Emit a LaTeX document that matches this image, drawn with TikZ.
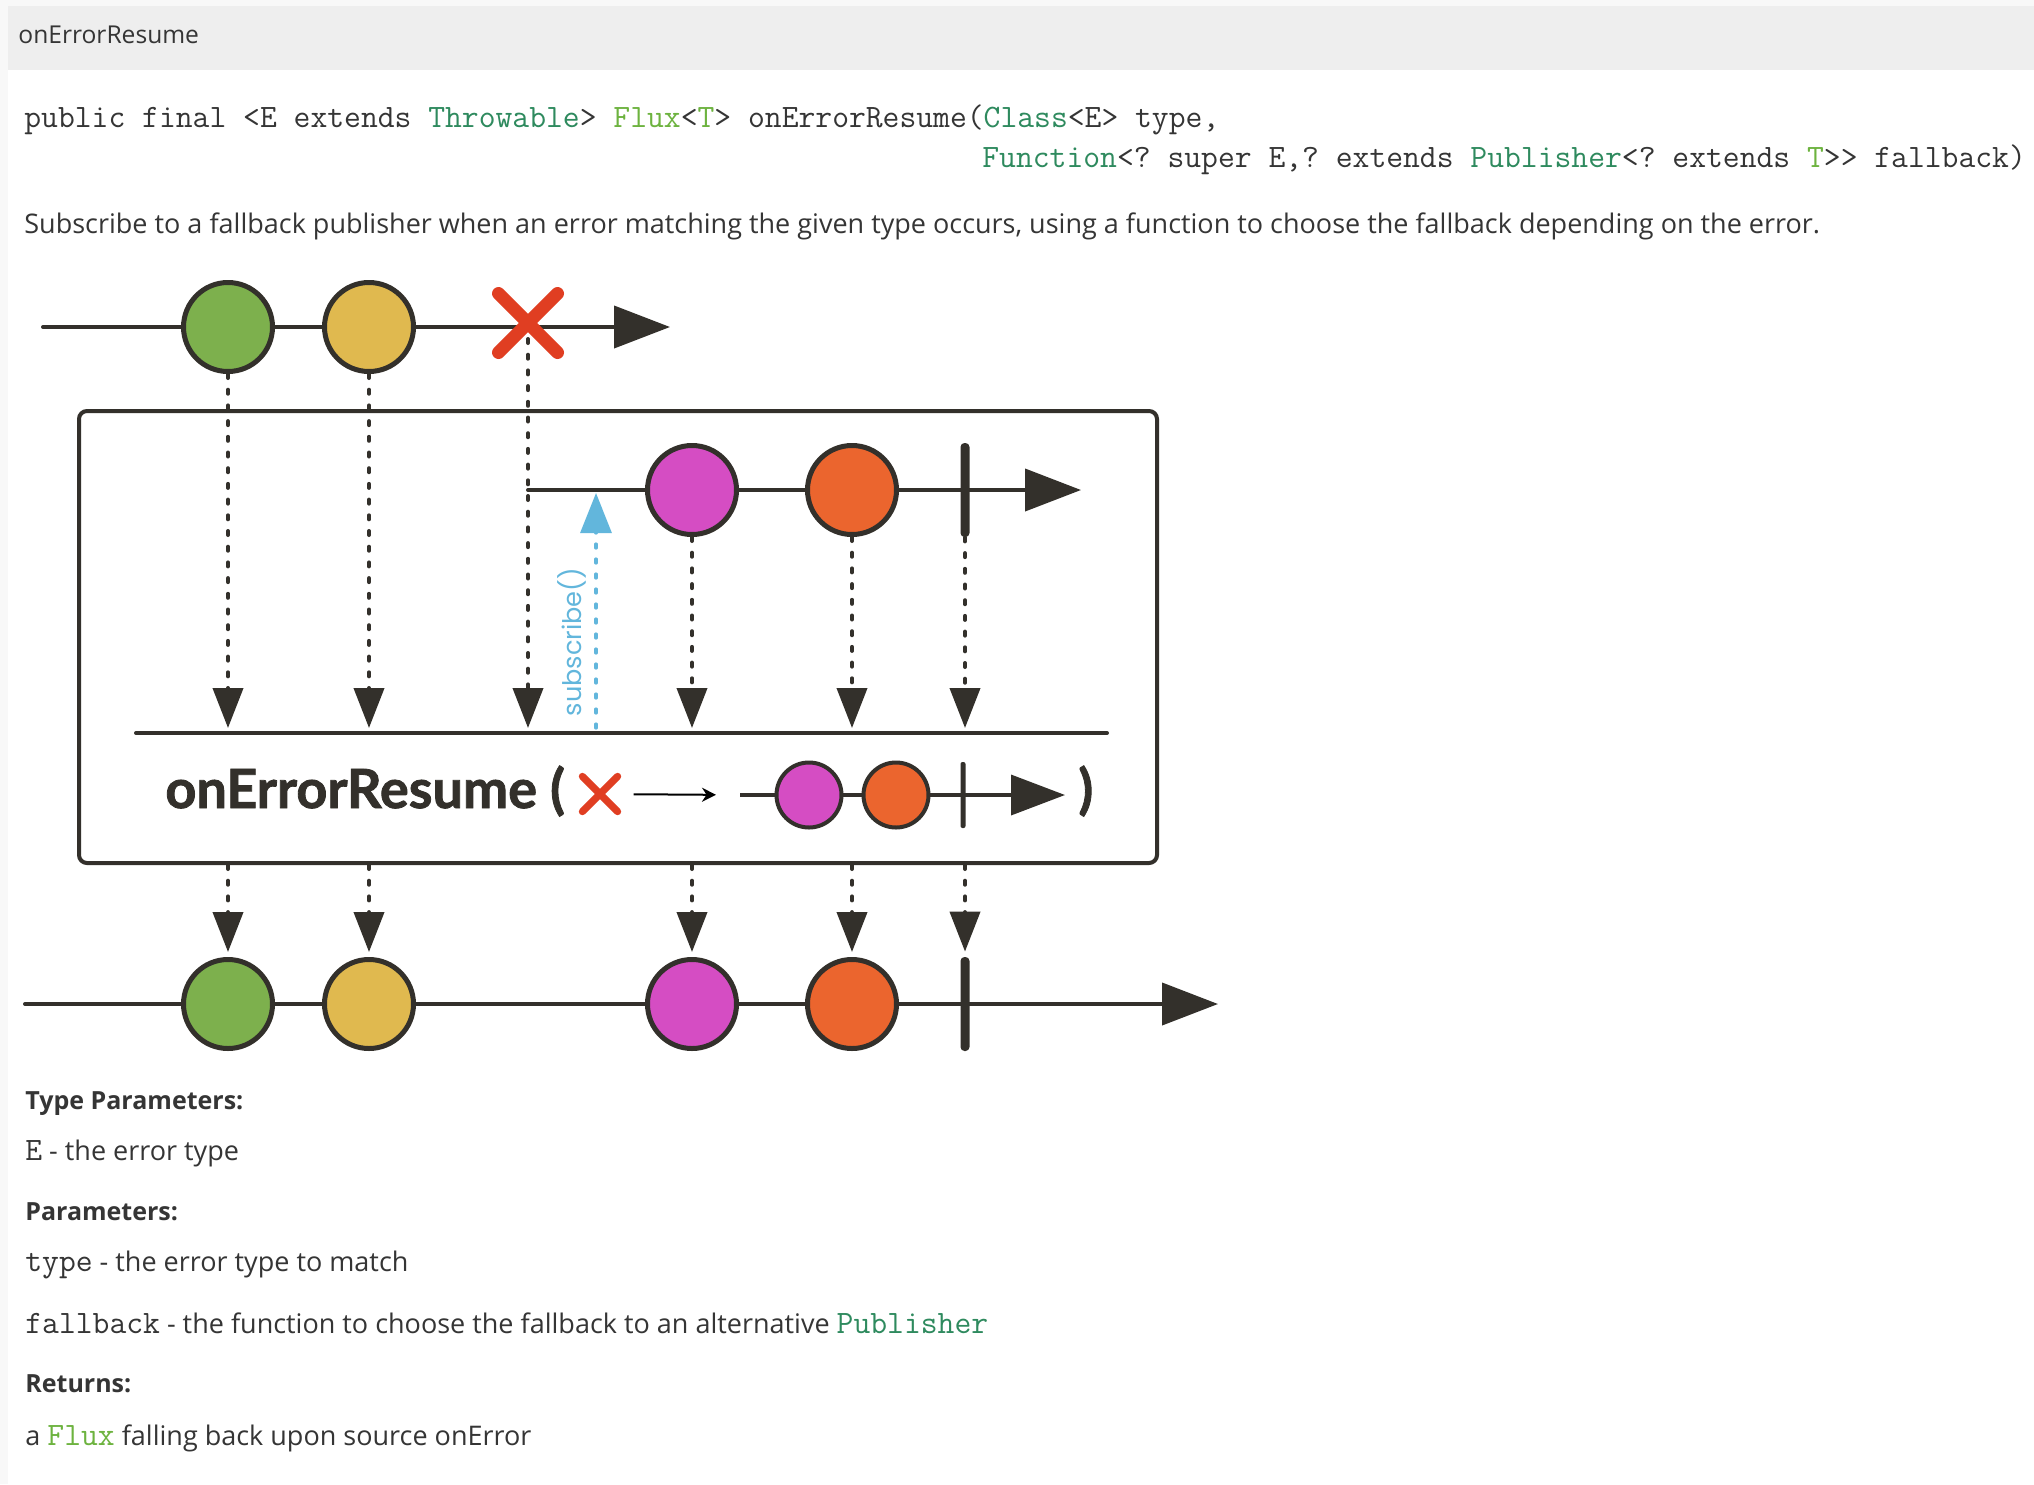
\documentclass[tikz,border=0pt]{standalone}
\usepackage{fontspec}
\setmainfont{Open Sans}
\newfontfamily\labelfont[BoldFeatures={FakeBold=1.5}]{Lato}
\newfontfamily\subfont{Poppins}
\usetikzlibrary{arrows.meta, shapes.misc}
\frenchspacing

\definecolor{pagegray}{HTML}{F8F8F8}
\definecolor{headgray}{HTML}{EEEEEE}
\definecolor{inkdark}{RGB}{51, 48, 43}
\definecolor{textgray}{RGB}{53, 53, 53}
\definecolor{typegreen}{RGB}{46, 138, 94}
\definecolor{fluxgreen}{RGB}{109, 179, 63}
\definecolor{mgreen}{RGB}{125, 176, 77}
\definecolor{myellow}{RGB}{224, 185, 79}
\definecolor{mpink}{RGB}{213, 77, 195}
\definecolor{morange}{RGB}{235, 101, 46}
\definecolor{errred}{RGB}{224, 62, 34}
\definecolor{subblue}{RGB}{98, 182, 220}

\tikzset{
  marble/.style={circle, draw=inkdark, line width=2.5pt, minimum size=44.5pt, inner sep=0pt},
  minimarble/.style={circle, draw=inkdark, line width=2pt, minimum size=32.5pt, inner sep=0pt},
  donebar/.style={rectangle, fill=inkdark, rounded corners=2pt, minimum width=4.5pt, minimum height=47pt, inner sep=0pt},
  minibar/.style={rectangle, fill=inkdark, rounded corners=1pt, minimum width=2.5pt, minimum height=33pt, inner sep=0pt},
  errmark/.style={cross out, draw=errred, line width=6.5pt, line cap=round, minimum size=23pt, inner sep=0pt},
  minierr/.style={cross out, draw=errred, line width=3.6pt, line cap=round, minimum size=14pt, inner sep=0pt},
  timeline/.style={draw=inkdark, line width=2pt, line cap=round, -{Triangle[length=28pt, width=21pt]}},
  minitimeline/.style={draw=inkdark, line width=1.8pt, -{Triangle[length=27pt, width=20pt]}},
  emit/.style={draw=inkdark, line width=2pt, line cap=round, dash pattern=on 2pt off 5.85pt, shorten >=2.5pt, -{Triangle[length=20pt, width=15pt]}},
  subscribe/.style={draw=subblue, line width=1.6pt, line cap=round, dash pattern=on 2pt off 5.5pt, shorten >=1.5pt, -{Triangle[length=20pt, width=15.5pt]}},
  doctext/.style={anchor=base west, inner sep=0pt, text=textgray, font=\fontsize{13.5}{16}\selectfont},
  dochead/.style={anchor=base west, inner sep=0pt, text=textgray, font=\fontsize{12.5}{15}\selectfont\bfseries},
  codetext/.style={anchor=base west, inner sep=0pt, text=textgray, font=\fontsize{16.34}{18}\selectfont\ttfamily},
  oplabel/.style={anchor=base west, inner sep=0pt, text=inkdark, font=\labelfont\bfseries\fontsize{27}{30}\selectfont}
}
\newcommand\codeword[1]{{\fontsize{16.34}{18}\selectfont\ttfamily #1}}

\begin{document}
\begin{tikzpicture}[x=0.5pt, y=-0.5pt]
  \useasboundingbox (0,0) rectangle (2034,1484);

  % Page background and header bar
  \fill[pagegray] (0,0) rectangle (2034,1484);
  \fill[white] (8,6) rectangle (2034,1484);
  \fill[headgray] (8,6) rectangle (2034,70);
  \node[anchor=base west, inner sep=0pt, text=textgray, font=\fontsize{12.3}{14}\selectfont] (title) at (18,43) {onErrorResume};

  % Signature
  \node[codetext] (sig1) at (24,127) {public final <E extends \textcolor{typegreen}{Throwable}> \textcolor{fluxgreen}{Flux}<\textcolor{fluxgreen}{T}> onErrorResume(\textcolor{typegreen}{Class}<E> type,};
  \node[codetext] (sig2) at (982,167) {\textcolor{typegreen}{Function}<? super E,? extends \textcolor{typegreen}{Publisher}<? extends \textcolor{fluxgreen}{T}>{}> fallback)};
  \node[doctext] (desc) at (24,233) {Subscribe to a fallback publisher when an error matching the given type occurs, using a function to choose the fallback depending on the error.};

  % Source sequence
  \coordinate (srcStart) at (43,327);
  \coordinate (srcEnd) at (670,327);
  \draw[timeline] (srcStart) -- (srcEnd);
  \node[marble, fill=mgreen] (s1) at (228,327) {};
  \node[marble, fill=myellow] (s2) at (369,327) {};
  \node[errmark] (err) at (528,323) {};

  % Operator box
  \node[draw=inkdark, line width=2pt, rounded corners=4pt, minimum width=539pt, minimum height=226pt, inner sep=0pt] (opbox) at (618,637) {};

  % Fallback sequence
  \coordinate (fbStart) at (528,490);
  \coordinate (fbEnd) at (1081,490);
  \draw[timeline] (fbStart) -- (fbEnd);
  \node[marble, fill=mpink] (f1) at (692,490) {};
  \node[marble, fill=morange] (f2) at (852,490) {};
  \node[donebar] (f3) at (965,490) {};

  % Operator line
  \coordinate (opStart) at (136,733);
  \coordinate (opEnd) at (1107,733);
  \draw[inkdark, line width=2pt, line cap=round] (opStart) -- (opEnd);

  % Signals into the operator
  \draw[emit] (s1) -- (s1 |- opStart);
  \draw[emit] (s2) -- (s2 |- opStart);
  \draw[emit] ([yshift=-8pt]err.center) -- (err |- opStart);
  \draw[emit] (f1) -- (f1 |- opStart);
  \draw[emit] (f2) -- (f2 |- opStart);
  \draw[emit] (f3) -- (f3 |- opStart);

  % subscribe()
  \coordinate (subFoot) at (596,728);
  \draw[subscribe] (subFoot) -- (subFoot |- fbStart);
  \node[rotate=90, inner sep=0pt, text=subblue, font=\subfont\fontsize{12.8}{15}\selectfont] (sublabel) at (572,642) {subscribe()};

  % Operator label
  \node[oplabel] (opname) at (165,808) {onErrorResume (};
  \node[minierr] (merr) at (600,794) {};
  \coordinate (mStart) at (740,795);
  \coordinate (mEnd) at (1065,795);
  \draw[line width=1pt, shorten <=8pt, shorten >=12pt, -{Stealth[length=7pt, width=7pt]}] (merr) -- (mStart);
  \draw[minitimeline] (mStart) -- (mEnd);
  \node[minimarble, fill=mpink] (m1) at (809,795) {};
  \node[minimarble, fill=morange] (m2) at (896,795) {};
  \node[minibar] (m3) at (963,795) {};
  \node[oplabel] (opclose) at (1078,808) {)};

  % Resulting sequence
  \coordinate (outStart) at (25,1004);
  \coordinate (outEnd) at (1218,1004);
  \draw[timeline] (outStart) -- (outEnd);
  \node[marble, fill=mgreen] (o1) at (228,1004) {};
  \node[marble, fill=myellow] (o2) at (369,1004) {};
  \node[marble, fill=mpink] (o3) at (692,1004) {};
  \node[marble, fill=morange] (o4) at (852,1004) {};
  \node[donebar] (o5) at (965,1004) {};

  % Signals out of the operator
  \draw[emit] (s1 |- opbox.south) -- (o1);
  \draw[emit] (s2 |- opbox.south) -- (o2);
  \draw[emit] (f1 |- opbox.south) -- (o3);
  \draw[emit] (f2 |- opbox.south) -- (o4);
  \draw[emit] (f3 |- opbox.south) -- (o5);

  % Parameters
  \node[dochead] (typehead) at (25,1109) {Type Parameters:};
  \node[doctext] (typeE) at (25,1160) {\codeword{E} - the error type};
  \node[dochead] (paramhead) at (25,1220) {Parameters:};
  \node[doctext] (paramtype) at (25,1271) {\codeword{type} - the error type to match};
  \node[doctext] (paramfb) at (25,1333) {\codeword{fallback} - the function to choose the fallback to an alternative \codeword{\color{typegreen}Publisher}};
  \node[dochead] (rethead) at (25,1392) {Returns:};
  \node[doctext] (retval) at (25,1445) {a \codeword{\color{fluxgreen}Flux} falling back upon source onError};
\end{tikzpicture}
\end{document}
